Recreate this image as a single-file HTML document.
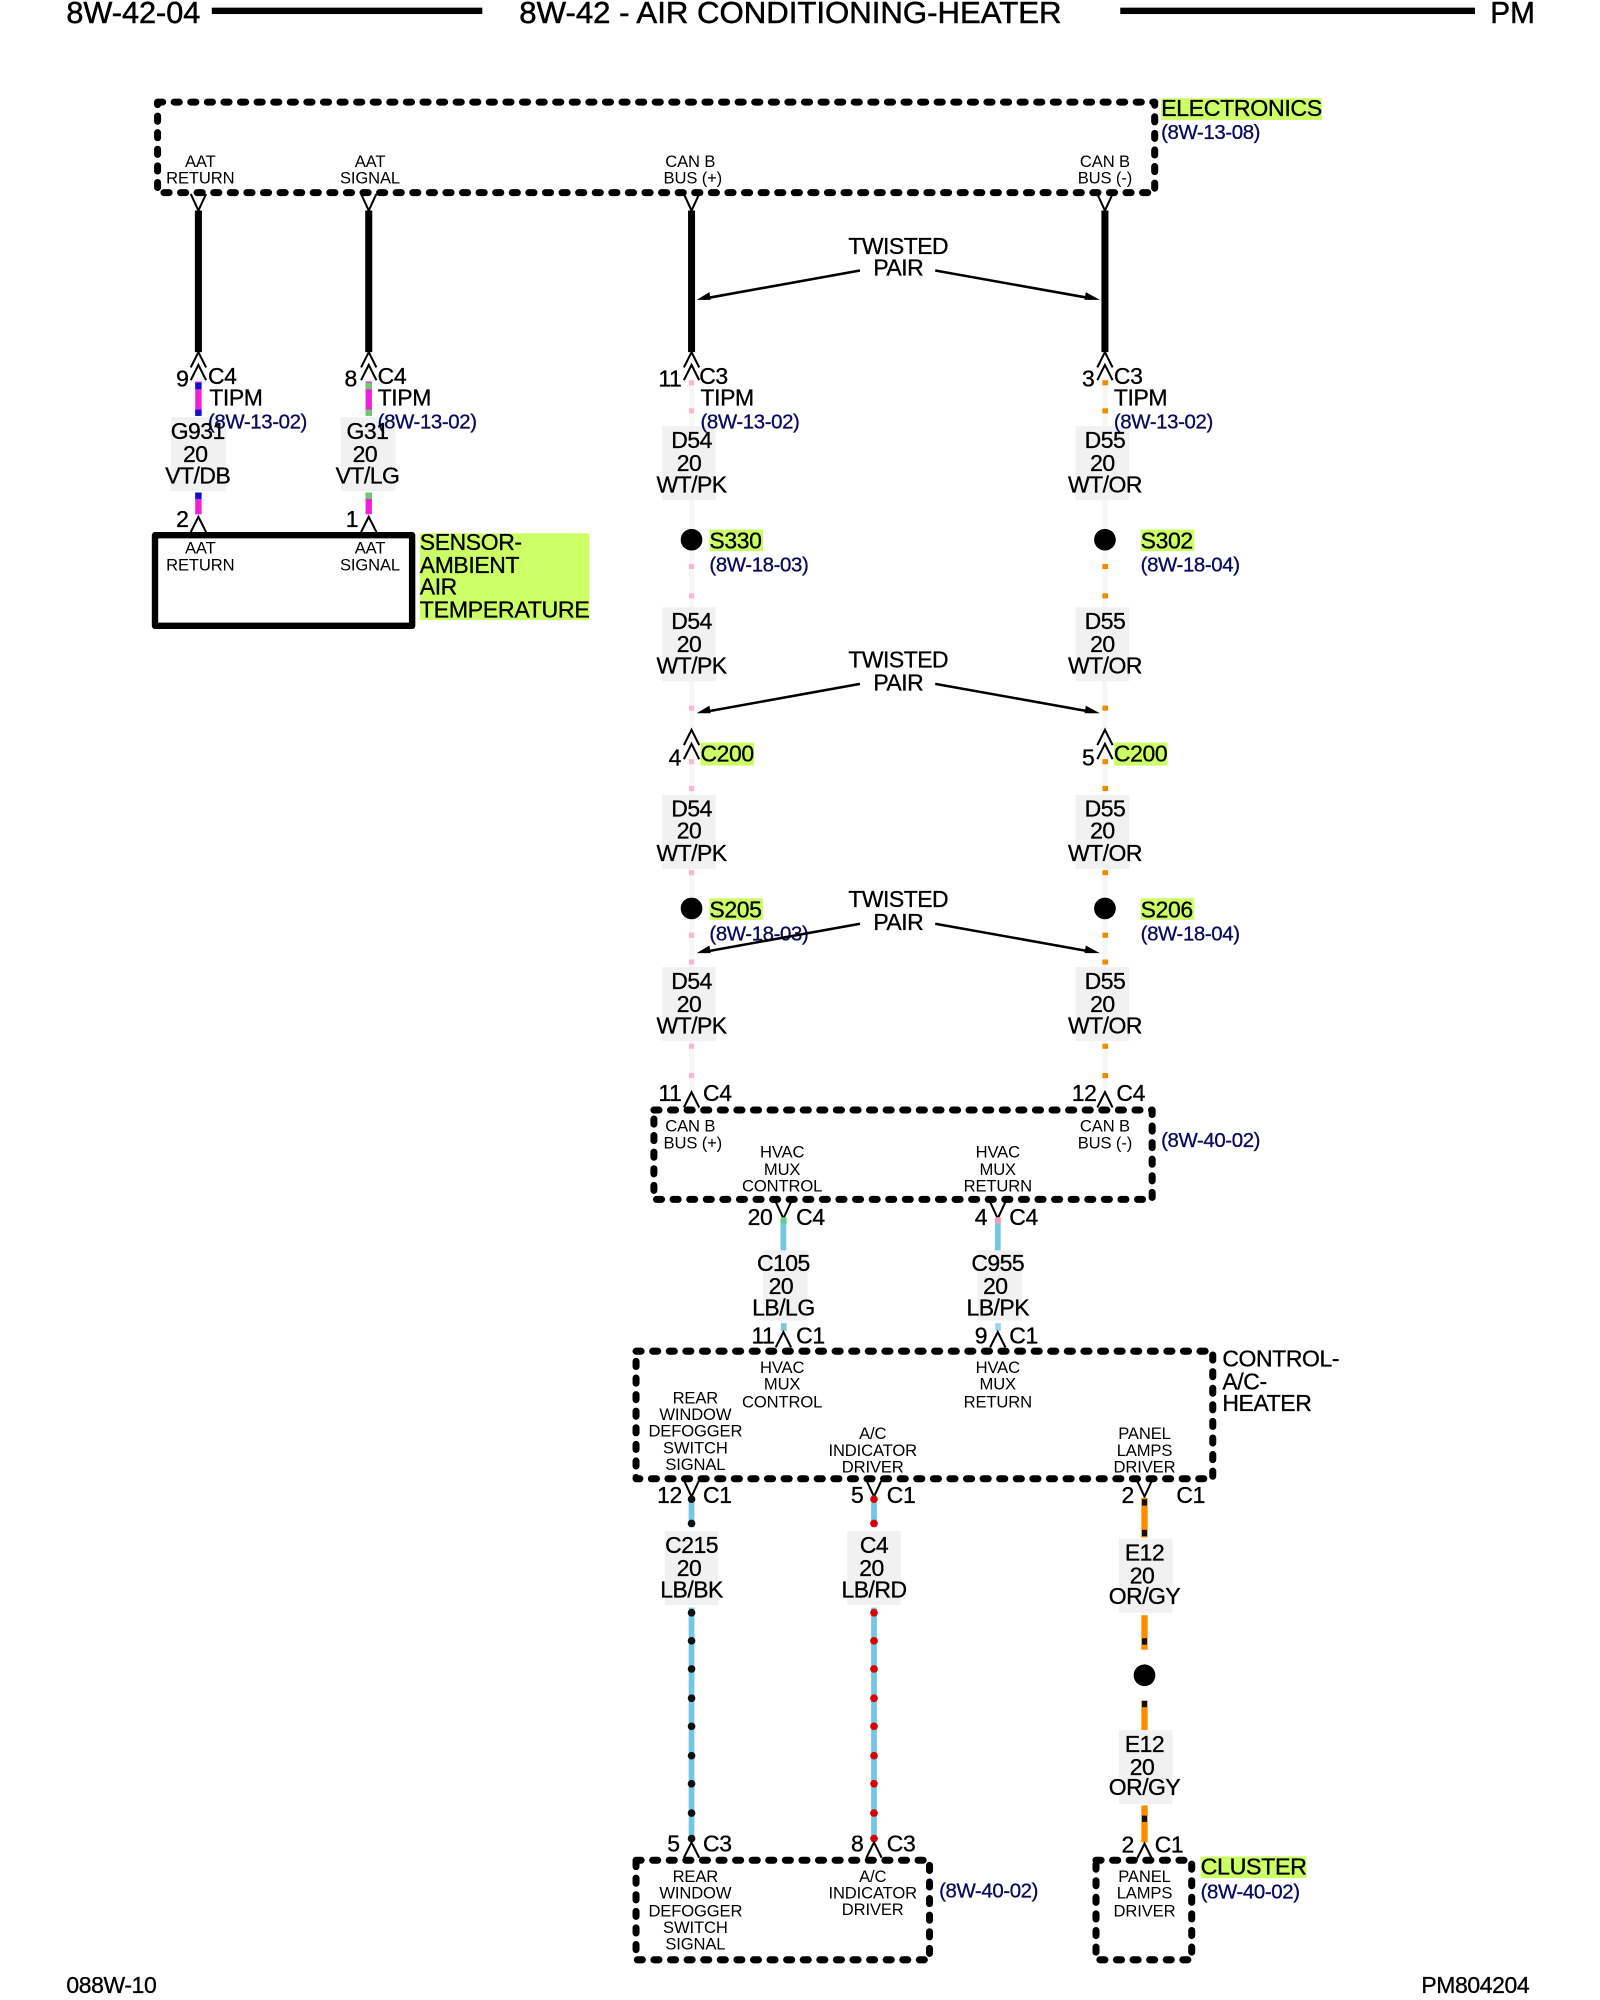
<!DOCTYPE html>
<html><head><meta charset="utf-8"><style>
html,body{margin:0;padding:0;background:#fff}
svg{display:block}
text{font-family:"Liberation Sans",sans-serif;fill:#000}
.w{font-size:18px;text-anchor:middle;letter-spacing:-.4px;stroke:#000;stroke-width:.25;transform:translateY(-1px)}
.t{font-size:18px;text-anchor:middle;letter-spacing:-.4px;stroke:#000;stroke-width:.25}
.n{font-size:18px;letter-spacing:-.3px;stroke:#000;stroke-width:.25}
.s{font-size:13px;text-anchor:middle;letter-spacing:-.1px}
.r{font-size:16px;fill:#0a0a5c;letter-spacing:-.3px;stroke:#0a0a5c;stroke-width:.25}
.h{font-size:24px;stroke:#000;stroke-width:.4}
.b{fill:#f1f1f1}
.l{fill:#ccff66}
.d{fill:none;stroke:#000;stroke-width:5.5;stroke-dasharray:4 9;stroke-linecap:round;stroke-linejoin:round}
.k{stroke:#000;stroke-width:5.5}
.c{fill:none;stroke:#000;stroke-width:1.6}
.a{stroke:#000;stroke-width:2}
</style></head><body>
<svg width="1600" height="2000" viewBox="0 0 1254 1567.5" xmlns="http://www.w3.org/2000/svg">
<defs>
<path id="u" class="c" d="M-6 12L0 0L6 12"/>
<path id="v" class="c" d="M-6 0L0 13L6 0"/>
</defs>

<!-- header/footer -->
<text class="h" x="52" y="18" textLength="105" lengthAdjust="spacingAndGlyphs">8W-42-04</text>
<rect x="166" y="6" width="212" height="5"/>
<text class="h" x="407" y="18" textLength="425" lengthAdjust="spacingAndGlyphs">8W-42 - AIR CONDITIONING-HEATER</text>
<rect x="878" y="6" width="278" height="5"/>
<text class="h" x="1168" y="18" textLength="35" lengthAdjust="spacingAndGlyphs">PM</text>
<text class="n" x="52" y="1562">088W-10</text>
<text class="n" x="1114" y="1562">PM804204</text>

<!-- top box -->
<rect class="d" x="123.5" y="80" width="781.500" height="71"/>
<rect class="l" x="910" y="77" width="126" height="17"/>
<text class="n" x="910" y="91" textLength="126" lengthAdjust="spacingAndGlyphs">ELECTRONICS</text>
<text class="r" x="910" y="109">(8W-13-08)</text>
<text class="s" x="157" y="131">AAT</text><text class="s" x="157" y="144">RETURN</text>
<text class="s" x="290" y="131">AAT</text><text class="s" x="290" y="144">SIGNAL</text>
<text class="s" x="541" y="131">CAN B</text><text class="s" x="543" y="144">BUS (+)</text>
<text class="s" x="866" y="131">CAN B</text><text class="s" x="866" y="144">BUS (-)</text>
<use href="#v" x="155.500" y="152"/><use href="#v" x="289" y="152"/><use href="#v" x="542" y="152"/><use href="#v" x="866" y="152"/>
<path class="k" d="M155.500 165V276M289 165V276M542 165V276M866 165V276"/>
<use href="#u" x="155.500" y="276"/><use href="#u" x="155.500" y="286"/>
<use href="#u" x="289" y="276"/><use href="#u" x="289" y="286"/>
<use href="#u" x="542" y="276"/><use href="#u" x="542" y="286"/>
<use href="#u" x="866" y="276"/><use href="#u" x="866" y="286"/>

<!-- left wires -->
<rect class="b" x="134" y="327" width="43" height="58"/>
<rect class="b" x="267" y="327" width="43" height="58"/>
<path d="M155.500 299V325M155.500 386V403" stroke="#f020d8" stroke-width="5"/>
<path d="M289 299V325M289 386V403" stroke="#f020d8" stroke-width="5"/>
<rect x="153" y="300" width="5" height="5" fill="#1010d0"/><rect x="153" y="321" width="5" height="5" fill="#1010d0"/><rect x="153" y="386" width="5" height="5" fill="#1010d0"/>
<rect x="286.500" y="300" width="5" height="5" fill="#70c870"/><rect x="286.500" y="321" width="5" height="5" fill="#70c870"/><rect x="286.500" y="386" width="5" height="5" fill="#70c870"/>
<text class="n" x="138" y="303">9</text><text class="n" x="163" y="301">C4</text><text class="n" x="164" y="318">TIPM</text>
<text class="r" x="163" y="336">(8W-13-02)</text>
<text class="n" x="270" y="303">8</text><text class="n" x="296" y="301">C4</text><text class="n" x="296" y="318">TIPM</text>
<text class="r" x="296" y="336">(8W-13-02)</text>
<text class="w" x="155" y="345">G931</text><text class="w" x="153" y="363">20</text><text class="w" x="155" y="380">VT/DB</text>
<text class="w" x="288" y="345">G31</text><text class="w" x="286" y="363">20</text><text class="w" x="288" y="380">VT/LG</text>
<text class="n" x="138" y="413">2</text><text class="n" x="271" y="413">1</text>
<use href="#u" x="155.500" y="405"/><use href="#u" x="289" y="405"/>
<rect x="121.500" y="419.500" width="201.500" height="71" fill="none" stroke="#000" stroke-width="5" stroke-linejoin="round"/>
<text class="s" x="157" y="434">AAT</text><text class="s" x="157" y="447">RETURN</text>
<text class="s" x="290" y="434">AAT</text><text class="s" x="290" y="447">SIGNAL</text>
<rect class="l" x="329" y="418" width="133" height="68"/>
<text class="n" x="329" y="431">SENSOR-</text><text class="n" x="329" y="449">AMBIENT</text><text class="n" x="329" y="466">AIR</text><text class="n" x="329" y="484" textLength="133" lengthAdjust="spacingAndGlyphs">TEMPERATURE</text>

<!-- white wires -->
<path d="M542 299V855M866 299V855" stroke="#f7f7f7" stroke-width="4"/>
<!-- label backgrounds -->
<g class="b">
<rect x="519" y="334" width="42" height="58"/><rect x="519" y="476" width="42" height="58"/><rect x="519" y="623" width="42" height="58"/><rect x="519" y="758" width="42" height="58"/>
<rect x="843" y="334" width="42" height="58"/><rect x="843" y="476" width="42" height="58"/><rect x="843" y="623" width="42" height="58"/><rect x="843" y="758" width="42" height="58"/>
</g>
<g fill="#ffb6c8">
<rect x="540" y="298" width="4" height="4"/><rect x="540" y="320" width="4" height="4"/><rect x="540" y="442" width="4" height="4"/><rect x="540" y="465" width="4" height="4"/><rect x="540" y="553" width="4" height="4"/><rect x="540" y="595" width="4" height="4"/><rect x="540" y="616" width="4" height="4"/><rect x="540" y="682" width="4" height="4"/><rect x="540" y="731" width="4" height="4"/><rect x="540" y="752" width="4" height="4"/><rect x="540" y="818" width="4" height="4"/><rect x="540" y="841" width="4" height="4"/>
</g>
<g fill="#ee8c00">
<rect x="864" y="298" width="4.500" height="4"/><rect x="864" y="320" width="4.500" height="4"/><rect x="864" y="442" width="4.500" height="4"/><rect x="864" y="465" width="4.500" height="4"/><rect x="864" y="553" width="4.500" height="4"/><rect x="864" y="595" width="4.500" height="4"/><rect x="864" y="616" width="4.500" height="4"/><rect x="864" y="682" width="4.500" height="4"/><rect x="864" y="731" width="4.500" height="4"/><rect x="864" y="752" width="4.500" height="4"/><rect x="864" y="818" width="4.500" height="4"/><rect x="864" y="841" width="4.500" height="4"/>
</g>
<text class="n" x="516" y="303">11</text><text class="n" x="548" y="301">C3</text><text class="n" x="549" y="318">TIPM</text>
<text class="r" x="549" y="336">(8W-13-02)</text>
<text class="n" x="848" y="303">3</text><text class="n" x="873" y="301">C3</text><text class="n" x="873" y="318">TIPM</text>
<text class="r" x="873" y="336">(8W-13-02)</text>

<text class="w" x="542" y="352">D54</text><text class="w" x="540" y="370">20</text><text class="w" x="542" y="387">WT/PK</text>
<text class="w" x="866" y="352">D55</text><text class="w" x="864" y="370">20</text><text class="w" x="866" y="387">WT/OR</text>
<text class="w" x="542" y="494">D54</text><text class="w" x="540" y="512">20</text><text class="w" x="542" y="529">WT/PK</text>
<text class="w" x="866" y="494">D55</text><text class="w" x="864" y="512">20</text><text class="w" x="866" y="529">WT/OR</text>
<text class="w" x="542" y="641">D54</text><text class="w" x="540" y="658">20</text><text class="w" x="542" y="676">WT/PK</text>
<text class="w" x="866" y="641">D55</text><text class="w" x="864" y="658">20</text><text class="w" x="866" y="676">WT/OR</text>
<text class="w" x="542" y="776">D54</text><text class="w" x="540" y="794">20</text><text class="w" x="542" y="811">WT/PK</text>
<text class="w" x="866" y="776">D55</text><text class="w" x="864" y="794">20</text><text class="w" x="866" y="811">WT/OR</text>

<!-- splices -->
<circle cx="542" cy="423" r="8.500"/><circle cx="866" cy="423" r="8.500"/><circle cx="542" cy="712" r="8.500"/><circle cx="866" cy="712" r="8.500"/>
<rect class="l" x="556" y="415" width="42" height="17"/><rect class="l" x="894" y="415" width="42" height="17"/><rect class="l" x="556" y="704" width="42" height="17"/><rect class="l" x="894" y="704" width="42" height="17"/>
<text class="n" x="556" y="430">S330</text><text class="n" x="894" y="430">S302</text><text class="n" x="556" y="719">S205</text><text class="n" x="894" y="719">S206</text>
<text class="r" x="556" y="448">(8W-18-03)</text><text class="r" x="894" y="448">(8W-18-04)</text><text class="r" x="556" y="737">(8W-18-03)</text><text class="r" x="894" y="737">(8W-18-04)</text>

<!-- twisted pair -->
<text class="t" x="704" y="199">TWISTED</text><text class="t" x="704" y="216">PAIR</text>
<text class="t" x="704" y="523">TWISTED</text><text class="t" x="704" y="541">PAIR</text>
<text class="t" x="704" y="711">TWISTED</text><text class="t" x="704" y="729">PAIR</text>
<g class="a">
<line x1="674" y1="212" x2="552" y2="234"/><line x1="733" y1="212" x2="856" y2="234"/>
<line x1="674" y1="536" x2="552" y2="558"/><line x1="733" y1="536" x2="856" y2="558"/>
<line x1="674" y1="724" x2="552" y2="746"/><line x1="733" y1="724" x2="856" y2="746"/>
</g>
<path d="M546 235L556 229L557 235ZM862 235L851 229L850 235ZM546 559L556 553L557 559ZM862 559L851 553L850 559ZM546 747L556 741L557 747ZM862 747L851 741L850 747Z"/>

<!-- C200 -->
<use href="#u" x="542" y="572"/><use href="#u" x="542" y="583"/><use href="#u" x="866" y="572"/><use href="#u" x="866" y="583"/>
<rect class="l" x="549" y="582" width="42" height="18"/><rect class="l" x="873" y="582" width="42" height="18"/>
<text class="n" x="524" y="600">4</text><text class="n" x="549" y="597">C200</text>
<text class="n" x="848" y="600">5</text><text class="n" x="873" y="597">C200</text>

<!-- C4 row -->
<text class="n" x="516" y="863">11</text><text class="n" x="551" y="863">C4</text>
<text class="n" x="840" y="863">12</text><text class="n" x="875" y="863">C4</text>
<use href="#u" x="542" y="856"/><use href="#u" x="866" y="856"/>

<!-- box 2 -->
<rect class="d" x="512.500" y="870" width="390.500" height="70"/>
<text class="s" x="541" y="887">CAN B</text><text class="s" x="543" y="900">BUS (+)</text>
<text class="s" x="866" y="887">CAN B</text><text class="s" x="866" y="900">BUS (-)</text>
<text class="s" x="613" y="907">HVAC</text><text class="s" x="613" y="921">MUX</text><text class="s" x="613" y="934">CONTROL</text>
<text class="s" x="782" y="907">HVAC</text><text class="s" x="782" y="921">MUX</text><text class="s" x="782" y="934">RETURN</text>
<text class="r" x="910" y="899">(8W-40-02)</text>
<use href="#v" x="614" y="942"/><use href="#v" x="782" y="942"/>
<text class="n" x="586" y="960">20</text><text class="n" x="624" y="960">C4</text>
<text class="n" x="764" y="960">4</text><text class="n" x="791" y="960">C4</text>
<path d="M614 955V980M782 955V980" stroke="#74c6e6" stroke-width="4.500"/>
<rect x="612" y="954" width="4.500" height="5" fill="#5fd080"/><rect x="780" y="954" width="4.500" height="5" fill="#f0a0c0"/>
<rect class="b" x="598" y="980" width="35" height="55"/><rect class="b" x="766" y="980" width="35" height="55"/>
<text class="w" x="614" y="997">C105</text><text class="w" x="612" y="1015">20</text><text class="w" x="614" y="1032">LB/LG</text>
<text class="w" x="782" y="997">C955</text><text class="w" x="780" y="1015">20</text><text class="w" x="782" y="1032">LB/PK</text>
<rect x="612" y="1037" width="4.500" height="6" fill="#80c8c8"/><rect x="780" y="1037" width="4.500" height="6" fill="#9cd4ec"/>
<text class="n" x="589" y="1053">11</text><text class="n" x="624" y="1053">C1</text>
<text class="n" x="764" y="1053">9</text><text class="n" x="791" y="1053">C1</text>
<use href="#u" x="614" y="1044"/><use href="#u" x="782" y="1044"/>

<!-- box 3 -->
<rect class="d" x="498.500" y="1059" width="452" height="100"/>
<text class="s" x="613" y="1076">HVAC</text><text class="s" x="613" y="1089">MUX</text><text class="s" x="613" y="1103">CONTROL</text>
<text class="s" x="782" y="1076">HVAC</text><text class="s" x="782" y="1089">MUX</text><text class="s" x="782" y="1103">RETURN</text>
<text class="s" x="545" y="1100">REAR</text><text class="s" x="545" y="1113">WINDOW</text><text class="s" x="545" y="1126">DEFOGGER</text><text class="s" x="545" y="1139">SWITCH</text><text class="s" x="545" y="1152">SIGNAL</text>
<text class="s" x="684" y="1128">A/C</text><text class="s" x="684" y="1141">INDICATOR</text><text class="s" x="684" y="1154">DRIVER</text>
<text class="s" x="897" y="1128">PANEL</text><text class="s" x="897" y="1141">LAMPS</text><text class="s" x="897" y="1154">DRIVER</text>
<text class="n" x="958" y="1071">CONTROL-</text><text class="n" x="958" y="1089">A/C-</text><text class="n" x="958" y="1106">HEATER</text>
<use href="#v" x="542" y="1160"/><use href="#v" x="685" y="1160"/><use href="#v" x="897" y="1160"/>
<text class="n" x="515" y="1178">12</text><text class="n" x="551" y="1178">C1</text>
<text class="n" x="667" y="1178">5</text><text class="n" x="695" y="1178">C1</text>
<text class="n" x="879" y="1178">2</text><text class="n" x="922" y="1178">C1</text>

<!-- bottom wires -->
<path d="M542 1174V1197M542 1260V1443M685 1174V1197M685 1260V1443" stroke="#74c6e6" stroke-width="4.500"/>
<path d="M897 1174V1205M897 1266V1293M897 1333V1356M897 1415V1444" stroke="#ff8c00" stroke-width="5"/>
<g fill="#111">
<circle cx="542" cy="1175" r="3"/><circle cx="542" cy="1194" r="3"/><circle cx="542" cy="1264" r="3"/><circle cx="542" cy="1286" r="3"/><circle cx="542" cy="1308" r="3"/><circle cx="542" cy="1331" r="3"/><circle cx="542" cy="1353" r="3"/><circle cx="542" cy="1376" r="3"/><circle cx="542" cy="1398" r="3"/><circle cx="542" cy="1421" r="3"/><circle cx="542" cy="1441" r="3"/>
<rect x="895" y="1175" width="4" height="5"/><rect x="895" y="1199" width="4" height="5"/><rect x="895" y="1284" width="4" height="5"/><rect x="895" y="1333" width="4" height="5"/><rect x="895" y="1423" width="4" height="5"/>
</g>
<g fill="#d80000">
<circle cx="685" cy="1175" r="3"/><circle cx="685" cy="1194" r="3"/><circle cx="685" cy="1264" r="3"/><circle cx="685" cy="1286" r="3"/><circle cx="685" cy="1308" r="3"/><circle cx="685" cy="1331" r="3"/><circle cx="685" cy="1353" r="3"/><circle cx="685" cy="1376" r="3"/><circle cx="685" cy="1398" r="3"/><circle cx="685" cy="1421" r="3"/><circle cx="685" cy="1441" r="3"/>
</g>
<rect class="b" x="521" y="1200" width="42" height="58"/><rect class="b" x="664" y="1200" width="42" height="58"/>
<rect class="b" x="877" y="1206" width="42" height="58"/><rect class="b" x="877" y="1356" width="42" height="58"/>
<text class="w" x="542" y="1218">C215</text><text class="w" x="540" y="1236">20</text><text class="w" x="542" y="1253">LB/BK</text>
<text class="w" x="685" y="1218">C4</text><text class="w" x="683" y="1236">20</text><text class="w" x="685" y="1253">LB/RD</text>
<text class="w" x="897" y="1224">E12</text><text class="w" x="895" y="1242">20</text><text class="w" x="897" y="1258">OR/GY</text>
<text class="w" x="897" y="1374">E12</text><text class="w" x="895" y="1392">20</text><text class="w" x="897" y="1408">OR/GY</text>
<circle cx="897" cy="1313" r="8.500"/>

<text class="n" x="523" y="1451">5</text><text class="n" x="551" y="1451">C3</text>
<text class="n" x="667" y="1451">8</text><text class="n" x="695" y="1451">C3</text>
<text class="n" x="879" y="1452">2</text><text class="n" x="905" y="1452">C1</text>
<use href="#u" x="542" y="1444"/><use href="#u" x="685" y="1444"/><use href="#u" x="897" y="1445"/>

<!-- box 4, 5 -->
<rect class="d" x="498.500" y="1458" width="230" height="78"/>
<text class="s" x="545" y="1475">REAR</text><text class="s" x="545" y="1488">WINDOW</text><text class="s" x="545" y="1502">DEFOGGER</text><text class="s" x="545" y="1515">SWITCH</text><text class="s" x="545" y="1528">SIGNAL</text>
<text class="s" x="684" y="1475">A/C</text><text class="s" x="684" y="1488">INDICATOR</text><text class="s" x="684" y="1501">DRIVER</text>
<text class="r" x="736" y="1487">(8W-40-02)</text>
<rect class="d" x="859" y="1458" width="75" height="78"/>
<text class="s" x="897" y="1475">PANEL</text><text class="s" x="897" y="1488">LAMPS</text><text class="s" x="897" y="1502">DRIVER</text>
<rect class="l" x="941" y="1455" width="83" height="17"/>
<text class="n" x="941" y="1469" textLength="83" lengthAdjust="spacingAndGlyphs">CLUSTER</text>
<text class="r" x="941" y="1488">(8W-40-02)</text>
</svg>
</body></html>
